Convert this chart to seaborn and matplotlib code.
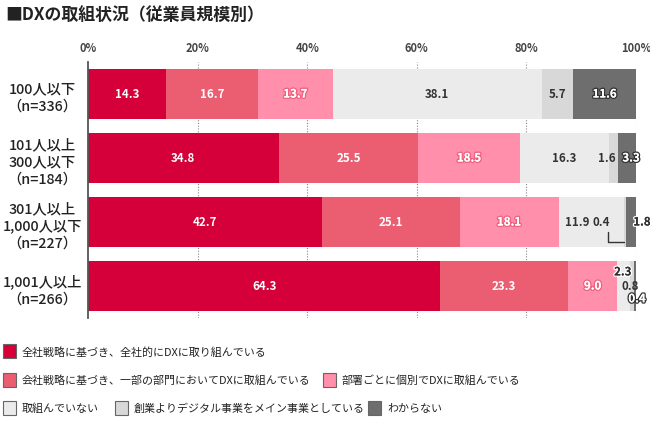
import numpy as np
import pandas as pd
import matplotlib
matplotlib.use("Agg")
import matplotlib.pyplot as plt
import matplotlib.patheffects as pe
from matplotlib.patches import Rectangle
import seaborn as sns

categories = ["100人以下\n（n=336）", "101人以上\n300人以下\n（n=184）",
              "301人以上\n1,000人以下\n（n=227）", "1,001人以上\n（n=266）"]
series_names = ["全社戦略に基づき、全社的にDXに取り組んでいる",
                "会社戦略に基づき、一部の部門においてDXに取組んでいる",
                "部署ごとに個別でDXに取組んでいる",
                "取組んでいない",
                "創業よりデジタル事業をメイン事業としている",
                "わからない"]
s1 = [14.3, 34.8, 42.7, 64.3]
s2 = [16.7, 25.5, 25.1, 23.3]
s3 = [13.7, 18.5, 18.1, 9.0]
s4 = [38.1, 16.3, 11.9, 2.3]
s5 = [5.7, 1.6, 0.4, 0.8]
s6 = [11.6, 3.3, 1.8, 0.4]
xticks = [0, 20, 40, 60, 80, 100]
xtick_labels = ["0%", "20%", "40%", "60%", "80%", "100%"]

colors = ["#D5003A", "#EB5E72", "#FF8FAA", "#EBEBEB", "#D8D8D8", "#6E6E6E"]
series = [s1, s2, s3, s4, s5, s6]

sns.set_theme(style="white")
plt.rcParams['font.family'] = ['Noto Sans CJK JP', 'DejaVu Sans']

fig = plt.figure(figsize=(6.5, 4.31), dpi=100)
ax = fig.add_axes([88/650, 1-319/431, 548/650, 256/431])

cum = np.cumsum(np.array(series), axis=0)
for i in range(len(series) - 1, -1, -1):
    df = pd.DataFrame({"cat": categories, "val": cum[i]})
    sns.barplot(data=df, x="val", y="cat", orient="h", color=colors[i],
                width=0.78, saturation=1, ax=ax, zorder=2, linewidth=0)

ax.set_xlim(0, 100)
ax.set_ylim(3.5, -0.5)
ax.set_xlabel("")
ax.set_ylabel("")
ax.xaxis.tick_top()
ax.set_xticks(xticks)
ax.set_xticklabels(xtick_labels, fontsize=8, fontweight="bold", color="#444")
ax.tick_params(axis="x", length=0, pad=6)
ax.tick_params(axis="y", length=0, pad=33)
for lab in ax.get_yticklabels():
    lab.set_ha("center")
    lab.set_multialignment("center")
    lab.set_fontsize(10.3)
    lab.set_fontweight("medium")
    lab.set_linespacing(1.3)
    lab.set_color("#222")
for sp in ["top", "right", "bottom"]:
    ax.spines[sp].set_visible(False)
ax.spines["left"].set_color("#555")
ax.spines["left"].set_linewidth(1.3)
ax.spines["left"].set_zorder(5)
for x in xticks[1:]:
    ax.axvline(x, color="#888", lw=0.8, ls=(0, (1, 1.5)), zorder=1)

# label positions (data coords) overrides
override = {(2, 3): (89.2, 2), (2, 4): (93.6, 2), (2, 5): (101.1, 2),
            (1, 4): (94.7, 1), (1, 5): (99.1, 1),
            (3, 3): (97.6, 2.78), (3, 4): (98.9, 3.0), (3, 5): (100.2, 3.2)}
dark_labels = {3, 4}
for i, s in enumerate(series):
    for r, v in enumerate(s):
        x = cum[i][r] - v / 2
        y = r
        if (r, i) in override:
            x, y = override[(r, i)]
        if i in (0, 1):
            col, eff = "white", []
        elif i == 2:
            col, eff = "white", [pe.withStroke(linewidth=2, foreground="#F06080")]
        elif i in dark_labels:
            col, eff = "#333", []
        else:
            if (r, i) == (2, 5):
                col, eff = "#333", [pe.withStroke(linewidth=2, foreground="white")]
            else:
                col, eff = "white", [pe.withStroke(linewidth=2, foreground="#333")]
        if (r, i) == (3, 3):
            col, eff = "#333", [pe.withStroke(linewidth=2, foreground="white")]
        t = ax.text(x, y, f"{v:.1f}", ha="center", va="center", fontsize=8.3,
                    fontweight="bold", color=col, zorder=6, clip_on=False)
        if eff:
            t.set_path_effects(eff + [pe.Normal()])

# leader line for 0.4 in row 3
ax.plot([94.8, 94.8, 97.9], [2.15, 2.31, 2.31], color="#333", lw=1, zorder=6,
        clip_on=False)

fig.text(5/650, 1-15/431, "■DXの取組状況（従業員規模別）", fontsize=12.2,
         fontweight="bold", color="#222", va="center", ha="left")

# legend
rows = [[(3, 0)], [(3, 1), (323, 2)], [(3, 3), (115, 4), (368, 5)]]
row_y = [352, 381, 409]
for ry, items in zip(row_y, rows):
    for px, idx in items:
        fig.patches.append(Rectangle((px/650, 1-(ry+7)/431), 13/650, 14/431,
                                     transform=fig.transFigure,
                                     facecolor=colors[idx], edgecolor="#666",
                                     lw=0.8))
        fig.text((px+19)/650, 1-ry/431, series_names[idx], fontsize=7.9,
                 color="#222", va="center", ha="left")

fig.savefig("out.png", dpi=100)
